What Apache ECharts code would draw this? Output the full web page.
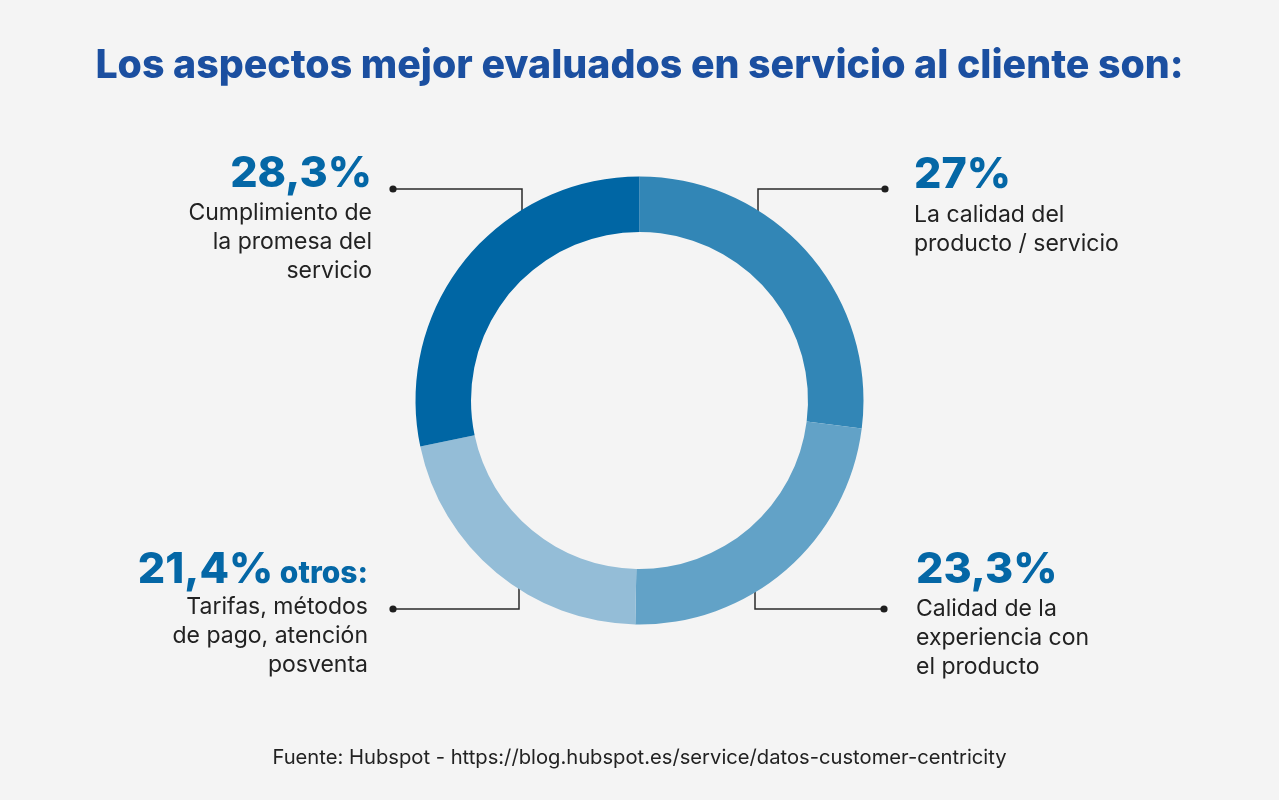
<!DOCTYPE html>
<html>
<head>
<meta charset="utf-8">
<script src="https://cdn.jsdelivr.net/npm/echarts@6/dist/echarts.min.js"></script>
<style>
html,body{margin:0;padding:0;background:#f4f4f4;}
#chart{width:1279px;height:800px;}
</style>
</head>
<body>
<div id="chart"></div>
<script>
// ---- data ----
const categories = [
  'La calidad del producto / servicio',
  'Calidad de la experiencia con el producto',
  'Otros: Tarifas, métodos de pago, atención posventa',
  'Cumplimiento de la promesa del servicio'
];
const values = [27, 23.3, 21.4, 28.3];
const descriptions = [
  ['La calidad del', 'producto / servicio'],
  ['Calidad de la', 'experiencia con', 'el producto'],
  ['Tarifas, métodos', 'de pago, atención', 'posventa'],
  ['Cumplimiento de', 'la promesa del', 'servicio']
];
const suffixes = ['', '', ' otros:', ''];
const titleText = 'Los aspectos mejor evaluados en servicio al cliente son:';
const sourceText = 'Fuente: Hubspot - https://blog.hubspot.es/service/datos-customer-centricity';

// ---- styles ----
const sliceColors = ['#3286b6', '#62a2c7', '#94bdd7', '#0066a4'];
const pctColor = '#0467a6';
const textColor = '#222222';
const FONT = 'Inter, "Noto Sans", sans-serif';

function fmt(v) { return String(v).replace('.', ',') + '%'; }

const chart = echarts.init(document.getElementById('chart'), null, {renderer: 'canvas'});

// annotation layout
const annot = [
  {side: 'R', dot: [885, 189], ex: 758, ey: 235, tx: 914, base: 188, descBase: 223},
  {side: 'R', dot: [884, 609], ex: 755, ey: 567, tx: 916, base: 583, descBase: 617},
  {side: 'L', dot: [393, 609], ex: 519, ey: 567, tx: 368, base: 583, descBase: 615},
  {side: 'L', dot: [393, 189], ex: 522, ey: 235, tx: 372, base: 187, descBase: 221}
];

const graphics = [];
const PCT = 43, DESC = 23, LH = 29;
annot.forEach((a, i) => {
  graphics.push({
    type: 'polyline', silent: true,
    shape: {points: [a.dot, [a.ex, a.dot[1]], [a.ex, a.ey]]},
    style: {stroke: '#2a2a2a', lineWidth: 1.5, fill: null}
  });
  graphics.push({
    type: 'circle', silent: true,
    shape: {cx: a.dot[0], cy: a.dot[1], r: 3.6},
    style: {fill: '#1e1e1e'}
  });
  const align = a.side === 'L' ? 'right' : 'left';
  graphics.push({
    type: 'text', silent: true,
    x: a.tx, y: a.base - 0.35 * PCT,
    style: {
      text: '{p|' + fmt(values[i]) + '}' + (suffixes[i] ? '{s|' + suffixes[i] + '}' : ''),
      align: align, verticalAlign: 'middle',
      rich: {
        p: {fontFamily: FONT, fontWeight: 800, fontSize: PCT, fill: pctColor, verticalAlign: 'bottom', lineHeight: 48},
        s: {fontFamily: FONT, fontWeight: 800, fontSize: 30, fill: pctColor, verticalAlign: 'bottom', lineHeight: 48, padding: [0, 0, 3, 0]}
      }
    }
  });
  descriptions[i].forEach((line, k) => {
    graphics.push({
      type: 'text', silent: true,
      x: a.tx, y: a.descBase + k * LH - 0.35 * DESC,
      style: {
        text: line, align: align, verticalAlign: 'middle',
        fontFamily: FONT, fontWeight: 400, fontSize: DESC, fill: textColor
      }
    });
  });
});

graphics.push({
  type: 'text', silent: true,
  x: 639.5, y: 758,
  style: {
    text: sourceText, align: 'center', verticalAlign: 'middle',
    fontFamily: FONT, fontWeight: 400, fontSize: 20.2, fill: textColor
  }
});

chart.setOption({
  backgroundColor: '#f4f4f4',
  animation: false,
  title: {
    text: titleText,
    left: 'center', top: 42,
    textStyle: {fontFamily: FONT, fontWeight: 800, fontSize: 39.3, color: '#1b4fa0'}
  },
  series: [{
    type: 'pie',
    center: [639.5, 400.5],
    radius: [168.5, 224],
    startAngle: 90,
    clockwise: true,
    label: {show: false},
    labelLine: {show: false},
    silent: true,
    data: categories.map((c, i) => ({name: c, value: values[i], itemStyle: {color: sliceColors[i]}}))
  }],
  graphic: graphics
});
</script>
</body>
</html>
